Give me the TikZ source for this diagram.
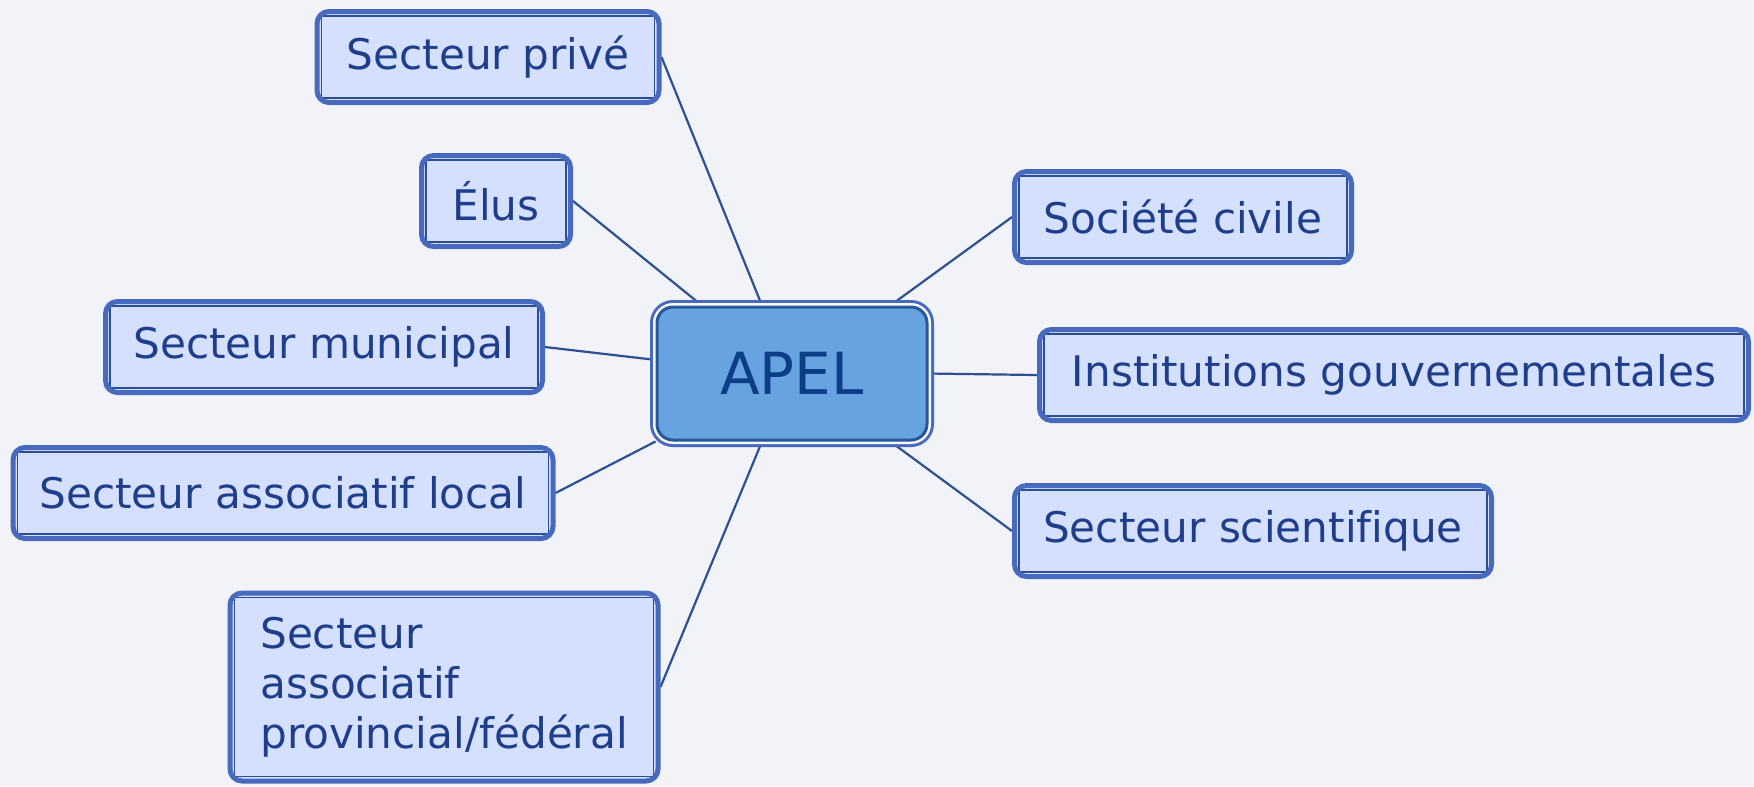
\documentclass[tikz,border=0pt]{standalone}
\usepackage{fontspec}
\setmainfont[Ligatures=NoCommon]{DejaVu Sans}
\usetikzlibrary{calc}

\definecolor{fond}{RGB}{242,243,249}
\definecolor{boxfill}{RGB}{212,224,254}
\definecolor{bordblue}{RGB}{72,106,190}
\definecolor{innerline}{RGB}{44,78,146}
\definecolor{textblue}{RGB}{30,62,140}
\definecolor{lineblue}{RGB}{44,80,146}
\definecolor{apelfill}{RGB}{102,163,224}
\definecolor{apelline}{RGB}{38,88,150}
\definecolor{apeltext}{RGB}{12,62,134}

\pgfdeclarelayer{back}
\pgfdeclarelayer{links}
\pgfsetlayers{back,links,main}

\begin{document}
\begin{tikzpicture}[x=0.1mm,y=-0.1mm,
    acteur/.style={draw=bordblue, line width=0.5mm, rounded corners=1.2mm,
        fill=boxfill, text=textblue, inner sep=0pt, minimum height=9.1mm,
        font=\fontsize{12}{14.3}\selectfont,
        path picture={\draw[innerline, line width=0.4pt, sharp corners]
            ([shift={(0.45mm,-0.45mm)}]path picture bounding box.north west) rectangle
            ([shift={(-0.45mm,0.45mm)}]path picture bounding box.south east);}},
    apel/.style={fill=apelfill, draw=apelline, line width=0.3mm, rounded corners=1.6mm,
        inner sep=0pt, minimum width=27mm, minimum height=13.3mm,
        text=apeltext, font=\fontsize{16.5}{20}\selectfont,
        preaction={draw=bordblue, line width=1.4mm},
        preaction={draw={rgb,255:red,246;green,248;blue,255}, line width=0.8mm}},
    lien/.style={draw=lineblue, line width=0.22mm}]

    \useasboundingbox (0,0) rectangle (1754,786);
    \begin{pgfonlayer}{back}
        \fill[fond] (0,0) rectangle (1754,786);
    \end{pgfonlayer}

    % centre
    \node[apel] (apel) at (792,373.5) {APEL};

    % cote gauche
    \node[acteur, minimum width=34.2mm] (prive) at (488,57) {Secteur privé};
    \node[acteur, minimum width=14.9mm] (elus) at (496,201) {Élus};
    \node[acteur, minimum width=43.7mm] (municipal) at (324,347) {Secteur municipal};
    \node[acteur, minimum width=54.0mm] (local) at (283,493) {Secteur associatif local};
    \node[acteur, minimum width=42.8mm, minimum height=18.8mm, align=left] (provincial) at (444,687)
        {Secteur\\associatif\\provincial/fédéral};

    % cote droit
    \node[acteur, minimum width=33.7mm] (civile) at (1183,217) {Société civile};
    \node[acteur, minimum width=70.9mm] (institutions) at (1394,375) {Institutions gouvernementales};
    \node[acteur, minimum width=47.7mm] (scientifique) at (1253,531) {Secteur scientifique};

    \begin{pgfonlayer}{links}
        \draw[lien] (prive.east) -- ($(apel.north west)!0.39!(apel.north east)$);
        \draw[lien] (elus.east) -- ($(apel.north west)!0.17!(apel.north east)$);
        \draw[lien] (municipal.east) -- ($(apel.north west)!0.40!(apel.south west)$);
        \draw[lien] (local.east) -- (apel.south west);
        \draw[lien] (provincial.east) -- ($(apel.south west)!0.39!(apel.south east)$);
        \draw[lien] (civile.west) -- ($(apel.north west)!0.86!(apel.north east)$);
        \draw[lien] (institutions.west) -- (apel.east);
        \draw[lien] (scientifique.west) -- ($(apel.south west)!0.86!(apel.south east)$);
    \end{pgfonlayer}
\end{tikzpicture}
\end{document}
